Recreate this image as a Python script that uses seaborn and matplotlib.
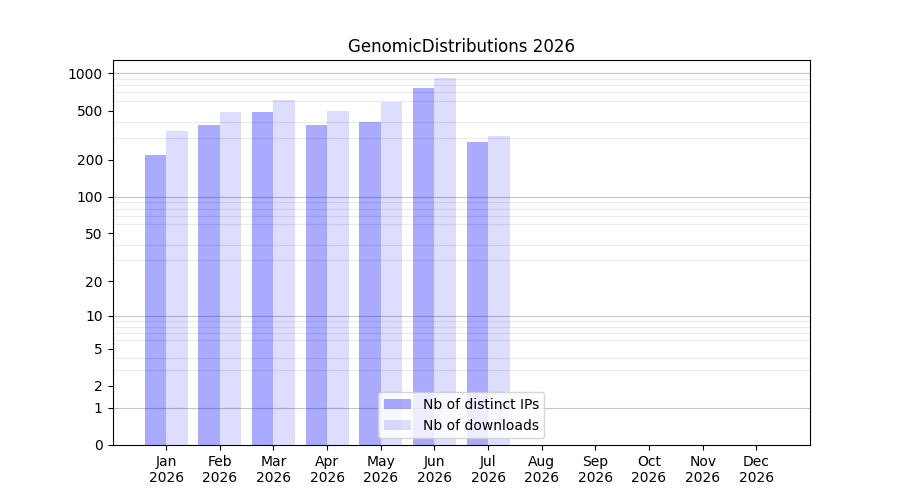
import numpy as np
import pandas as pd
import matplotlib
matplotlib.use("Agg")
import matplotlib.pyplot as plt
import seaborn as sns

# values
months = ["Jan", "Feb", "Mar", "Apr", "May", "Jun",
          "Jul", "Aug", "Sep", "Oct", "Nov", "Dec"]
year = 2026
distinct_ips = [218, 382, 487, 382, 404, 760, 279, 0, 0, 0, 0, 0]
downloads = [341, 487, 609, 496, 586, 916, 312, 0, 0, 0, 0, 0]
ytick_values = [0, 1, 2, 5, 10, 20, 50, 100, 200, 500, 1000]

labels = [f"{m}\n{year}" for m in months]
df = pd.DataFrame({
    "month": labels * 2,
    "count": distinct_ips + downloads,
    "series": ["Nb of distinct IPs"] * 12 + ["Nb of downloads"] * 12,
})

fig, ax = plt.subplots(figsize=(9, 5), dpi=100)

# y axis: log10(1 + y)
ax.set_yscale("function",
              functions=(lambda y: np.log10(np.maximum(y, 0) + 1),
                         lambda y: 10 ** y - 1))

palette = {"Nb of distinct IPs": (0, 0, 1, 1 / 3),
           "Nb of downloads": (0, 0, 1, 0.133)}
sns.barplot(data=df, x="month", y="count", hue="series", palette=palette,
            width=0.8, saturation=1, ax=ax)

ymax = 1280
ax.set_yticks(ytick_values)
ax.set_yticklabels([str(v) for v in ytick_values])

# minor grid at 2..9 x each decade, darker lines at decades
minor = [m * 10 ** k for k in range(4) for m in range(2, 10) if m * 10 ** k < ymax]
ax.set_yticks(minor, minor=True)
ax.tick_params(axis="y", which="minor", length=0)
ax.set_axisbelow(True)
ax.grid(False)
ax.grid(True, axis="y", which="minor", color="#ebebeb", linewidth=0.8)
for d in [1, 10, 100, 1000]:
    ax.axhline(d, color="#c4c4c4", linewidth=0.8, zorder=0.5)

ax.set_xlim(-1, 12)
ax.set_ylim(0, ymax)

ax.set_xlabel("")
ax.set_ylabel("")
ax.set_title(f"GenomicDistributions {year}")
ax.legend(loc="lower center")

fig.savefig("out.png", dpi=100)
